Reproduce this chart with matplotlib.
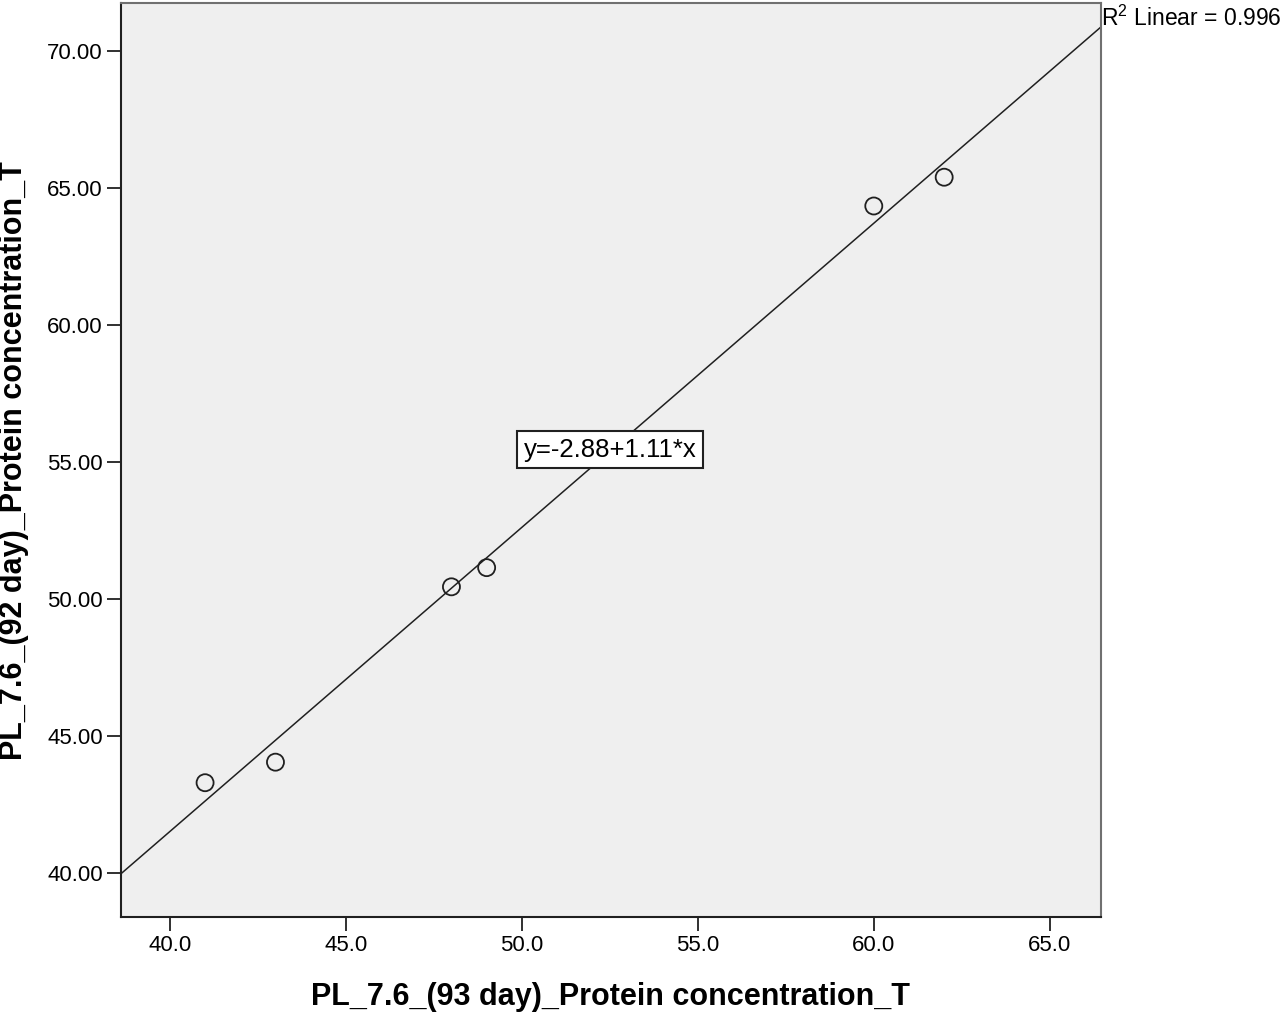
import numpy as np
import matplotlib.pyplot as plt

plt.rcParams['font.family'] = ['Liberation Sans', 'DejaVu Sans']

# readings
day93 = [41.0, 43.0, 48.0, 49.0, 60.0, 62.0]
day92 = [43.3, 44.05, 50.45, 51.15, 64.35, 65.4]
intercept = -2.88
slope = 1.11
r2 = 0.996

x_ticks = [40.0, 45.0, 50.0, 55.0, 60.0, 65.0]
y_ticks = [40.0, 45.0, 50.0, 55.0, 60.0, 65.0, 70.0]
xlim = (38.61, 66.45)
ylim = (38.4, 71.75)

fig = plt.figure(figsize=(12.8, 10.13), dpi=100)
ax = fig.add_axes([0.0945, 0.0948, 0.7655, 0.902])
ax.set_facecolor('#efefef')

xs = np.array(xlim)
ax.plot(xs, intercept + slope * xs, color='#202020', lw=1.1, zorder=2)
ax.scatter(day93, day92, s=150, facecolors='none', edgecolors='#202020',
           linewidths=1.3, zorder=3)

ax.set_xlim(*xlim)
ax.set_ylim(*ylim)
ax.set_xticks(x_ticks)
ax.set_xticklabels(['%.1f' % v for v in x_ticks])
ax.set_yticks(y_ticks)
ax.set_yticklabels(['%.2f' % v for v in y_ticks])
ax.tick_params(length=10, width=1.3, labelsize=16, color='#202020', pad=3)
for s in ax.spines.values():
    s.set_linewidth(1.5)
    s.set_color('#202020')
ax.spines['right'].set_color('#707070')
ax.spines['top'].set_color('#707070')

ax.set_xlabel('PL_7.6_(93 day)_Protein concentration_T', fontsize=22,
              fontweight='bold', labelpad=19)
ax.set_ylabel('PL_7.6_(92 day)_Protein concentration_T', fontsize=22,
              fontweight='bold', labelpad=13)

ax.text(52.5, 55.45, 'y=-2.88+1.11*x', fontsize=18.5, ha='center', va='center',
        bbox=dict(boxstyle='square,pad=0.25', fc='white', ec='#202020', lw=1.5),
        zorder=4)
ax.text(1.0, 0.997, '$\\mathregular{R^2}$ Linear = %.3f' % r2,
        transform=ax.transAxes, fontsize=16.5, ha='left', va='top')

fig.savefig('out.png', dpi=100)
